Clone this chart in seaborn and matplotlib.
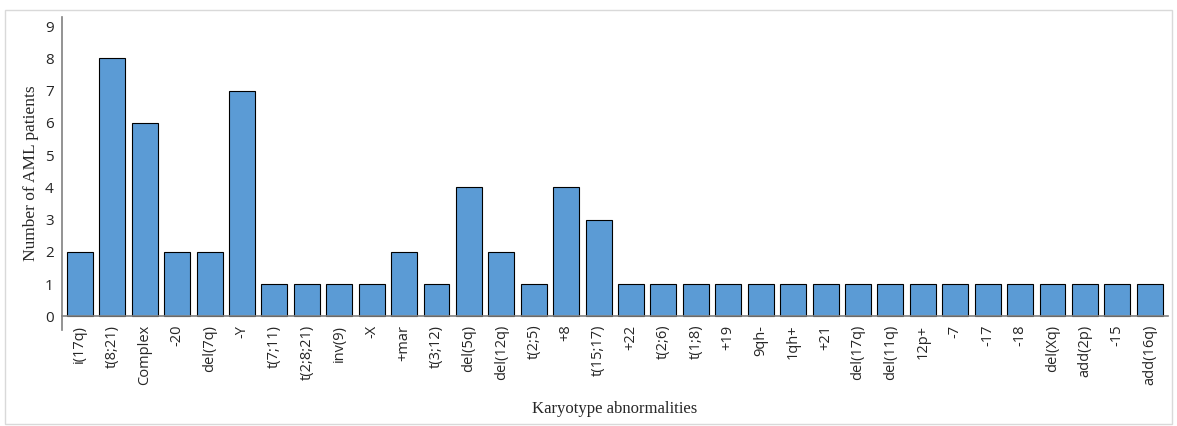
import pandas as pd
import matplotlib
matplotlib.use("Agg")
import matplotlib.pyplot as plt
import seaborn as sns

# Karyotype abnormalities and patient counts
categories = ["i(17q)", "t(8;21)", "Complex", "-20", "del(7q)", "-Y", "t(7;11)",
              "t(2;8;21)", "inv(9)", "-X", "+mar", "t(3;12)", "del(5q)", "del(12q)",
              "t(2;5)", "+8", "t(15;17)", "+22", "t(2;6)", "t(1;8)", "+19", "9qh-",
              "1qh+", "+21", "del(17q)", "del(11q)", "12p+", "-7", "-17", "-18",
              "del(Xq)", "add(2p)", "-15", "add(16q)"]
patients = [2, 8, 6, 2, 2, 7, 1, 1, 1, 1, 2, 1, 4, 2, 1, 4, 3,
            1, 1, 1, 1, 1, 1, 1, 1, 1, 1, 1, 1, 1, 1, 1, 1, 1]
yticks = list(range(10))


def main():
    sns.set_style("white")
    plt.rcParams['font.family'] = ['Open Sans', 'DejaVu Sans']

    df = pd.DataFrame({"abn": categories, "n": patients})

    fig = plt.figure(figsize=(11.77, 4.26), dpi=100)
    ax = fig.add_axes([0.0527, 0.225, 0.9393, 0.735])

    sns.barplot(data=df, x="abn", y="n", color="#5B9BD5", saturation=1,
                edgecolor="black", linewidth=0.8, width=0.8, ax=ax)

    ax.set_ylim(-0.43, 9.28)
    ax.set_xlim(-0.55, len(categories) - 0.45)
    ax.set_yticks(yticks)
    ax.tick_params(axis="y", labelsize=11, length=0, pad=6)
    ax.tick_params(axis="x", labelsize=10.5, length=0, rotation=90, pad=6)

    for s in ["top", "right"]:
        ax.spines[s].set_visible(False)
    ax.spines["bottom"].set_position(("data", 0))
    ax.spines["bottom"].set_color("#808080")
    ax.spines["left"].set_color("#808080")
    ax.spines["bottom"].set_linewidth(1.2)
    ax.spines["left"].set_linewidth(1.2)

    ax.set_ylabel("Number of AML patients", family="Liberation Serif", fontsize=12.5)
    ax.set_xlabel("Karyotype abnormalities", family="Liberation Serif", fontsize=12)
    ax.xaxis.set_label_coords(0.5, -0.225)

    # light frame round the whole figure
    fig.patches.append(plt.Rectangle((0.004, 0.004), 0.992, 0.972, transform=fig.transFigure,
                                     fill=False, edgecolor="#d9d9d9", linewidth=1))

    fig.savefig("out.png", dpi=100)


if __name__ == "__main__":
    main()
